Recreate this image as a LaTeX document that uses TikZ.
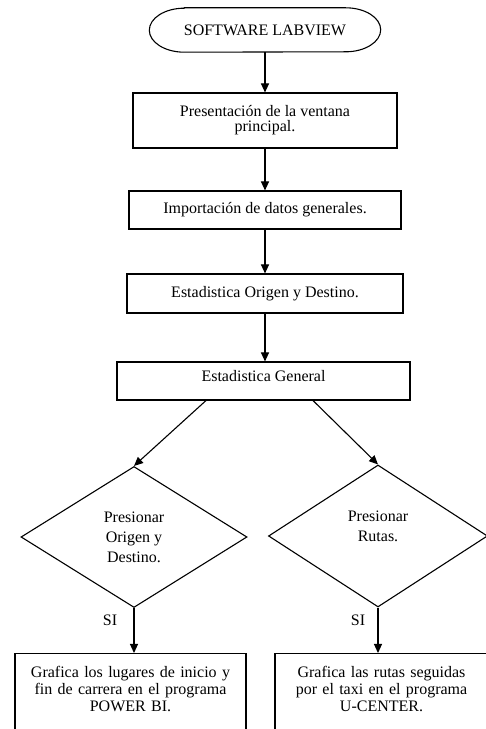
\documentclass[tikz,border=0pt]{standalone}
\usepackage{fontspec}
\setmainfont{Liberation Serif}
\usetikzlibrary{arrows.meta,shapes.geometric,calc}
\begin{document}
\begin{tikzpicture}[x=1pt,y=1pt,
  every node/.style={font=\fontsize{16}{15}\selectfont},
  boxnode/.style={draw, line width=1.1pt, align=center, inner sep=0pt},
  flow/.style={line width=1.1pt, -{Triangle[length=9pt,width=8pt]}},
  dia/.style={draw, diamond, line width=1.1pt, align=center, inner sep=0pt, font=\fontsize{16}{20}\selectfont},
  bottombox/.style={boxnode, anchor=north, font=\fontsize{16}{17}\selectfont, text height=24pt, text depth=100pt},
]
\useasboundingbox (0,0) rectangle (486,729);
\clip (0,0) rectangle (486,729);
% terminal
\node[minimum width=231pt, minimum height=44pt, inner sep=0pt] (t) at (265,699) {SOFTWARE LABVIEW};
\draw[line width=1.1pt] ([xshift=35pt]t.north west) -- ([xshift=-35pt]t.north east)
  arc[start angle=90,end angle=-90,x radius=35pt,y radius=22pt]
  -- ([xshift=35pt]t.south west)
  arc[start angle=270,end angle=90,x radius=35pt,y radius=22pt] -- cycle;
% process boxes
\node[boxnode, minimum width=264pt, minimum height=55pt] (b1) at (265,608.5) {Presentación de la ventana\\principal.};
\node[boxnode, minimum width=272pt, minimum height=38pt] (b2) at (265,519) {Importación de datos generales.};
\node[boxnode, minimum width=276pt, minimum height=39pt] (b3) at (265,435.5) {Estadistica Origen y Destino.};
\node[boxnode, minimum width=293pt, text height=20pt, text depth=18pt] (b4) at (263.5,348) {Estadistica General};
% decisions
\node[dia, minimum width=226pt, minimum height=141pt] (d1) at (134,192) {Presionar\\Origen y\\Destino.};
\node[dia, minimum width=219pt, minimum height=142pt] (d2) at (378,193) {Presionar\\Rutas.\\\mbox{}};
% bottom boxes
\node[bottombox, text width=231pt] (bl) at (130.5,76) {Grafica los lugares de inicio y\\fin de carrera en el programa\\POWER BI.};
\node[bottombox, text width=213pt] (br) at (381.5,76) {Grafica las rutas seguidas\\por el taxi en el programa\\U-CENTER.};
% labels
\node (si1) at (110,109) {SI};
\node (si2) at (358,109) {SI};
% connectors
\draw[flow] (t.south) -- (b1.north);
\draw[flow] (b1.south) -- (b2.north);
\draw[flow] (b2.south) -- (b3.north);
\draw[flow] (b3.south) -- (b3.south |- b4.north);
\draw[flow] ([xshift=-57.5pt]b4.south) -- (d1.north);
\draw[flow] ([xshift=49.5pt]b4.south) -- (d2.north);
\draw[flow] (d1.south) -- (d1.south |- bl.north);
\draw[flow] (d2.south) -- (d2.south |- br.north);
\end{tikzpicture}
\end{document}
